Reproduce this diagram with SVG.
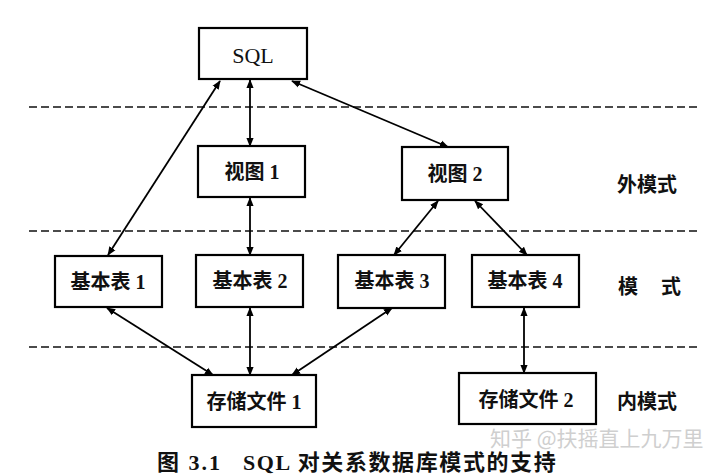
<svg xmlns="http://www.w3.org/2000/svg" width="708" height="476" viewBox="0 0 708 476">
<defs>
<marker id="ah" viewBox="0 0 10 10" refX="9" refY="5" markerWidth="9" markerHeight="9" markerUnits="userSpaceOnUse" orient="auto-start-reverse">
<path d="M0,1 L10,5 L0,9 Z" fill="#000"/>
</marker>
</defs>
<style>
.box{fill:#fff;stroke:#000;stroke-width:2.2}
.t{font-family:"Liberation Serif","Noto Sans CJK SC",serif;font-size:20px;font-weight:bold;fill:#111;text-anchor:middle;dominant-baseline:central}
.lbl{font-family:"Noto Sans CJK SC",sans-serif;font-size:20px;font-weight:bold;fill:#111;dominant-baseline:central}
.cap{font-family:"Liberation Serif","Noto Sans CJK SC",serif;font-size:22px;font-weight:bold;fill:#111;dominant-baseline:central}
.dash{stroke:#111;stroke-width:1.6;stroke-dasharray:8 4;fill:none}
.c{stroke:#000;stroke-width:1.8;fill:none;marker-start:url(#ah);marker-end:url(#ah)}
</style>
<rect width="708" height="476" fill="#fff"/>
<g id="layers">
<line class="dash" x1="29" y1="107" x2="697" y2="107"/>
<line class="dash" x1="29" y1="231" x2="697" y2="231"/>
<line class="dash" x1="29" y1="347" x2="697" y2="347"/>
</g>
<g id="connectors">
<line class="c" x1="220" y1="81" x2="108" y2="255"/>
<line class="c" x1="250" y1="80" x2="250" y2="146"/>
<line class="c" x1="292" y1="81" x2="448" y2="147"/>
<line class="c" x1="250" y1="198" x2="250" y2="255"/>
<line class="c" x1="438" y1="201" x2="394" y2="255"/>
<line class="c" x1="475" y1="201" x2="527" y2="255"/>
<line class="c" x1="107" y1="308" x2="213" y2="375"/>
<line class="c" x1="250" y1="308" x2="250" y2="375"/>
<line class="c" x1="392" y1="308" x2="292" y2="375"/>
<line class="c" x1="524" y1="308" x2="524" y2="373"/>
</g>
<g id="sql"><rect class="box" x="199" y="28" width="108" height="51"/><text class="t" x="253" y="55" style="font-weight:normal;font-size:22px">SQL</text></g>
<g id="view1"><rect class="box" x="198" y="146" width="107" height="51"/><text class="t" x="252" y="172">视图 1</text></g>
<g id="view2"><rect class="box" x="402" y="147" width="106" height="53"/><text class="t" x="455" y="174">视图 2</text></g>
<g id="table1"><rect class="box" x="55" y="256" width="107" height="51"/><text class="t" x="108" y="282">基本表 1</text></g>
<g id="table2"><rect class="box" x="196" y="255" width="107" height="52"/><text class="t" x="250" y="281">基本表 2</text></g>
<g id="table3"><rect class="box" x="338" y="255" width="107" height="53"/><text class="t" x="392" y="281">基本表 3</text></g>
<g id="table4"><rect class="box" x="472" y="255" width="107" height="52"/><text class="t" x="525" y="281">基本表 4</text></g>
<g id="file1"><rect class="box" x="192" y="375" width="124" height="52"/><text class="t" x="254" y="402">存储文件 1</text></g>
<g id="file2"><rect class="box" x="459" y="373" width="137" height="51"/><text class="t" x="526" y="400">存储文件 2</text></g>
<g id="labels">
<text class="lbl" x="617" y="183">外模式</text>
<text class="lbl" x="618" y="285">模</text>
<text class="lbl" x="661" y="285">式</text>
<text class="lbl" x="617" y="400">内模式</text>
</g>
<g id="caption">
<text class="cap" x="157" y="462" style="letter-spacing:2px">图 3.1</text>
<text class="cap" x="243" y="462" style="letter-spacing:1.6px">SQL 对关系数据库模式的支持</text>
</g>
<text x="490" y="437" style="font-family:'Noto Sans CJK SC',sans-serif;font-size:21px;fill:#cfcfcf;dominant-baseline:central">知乎 @扶摇直上九万里</text>
</svg>
